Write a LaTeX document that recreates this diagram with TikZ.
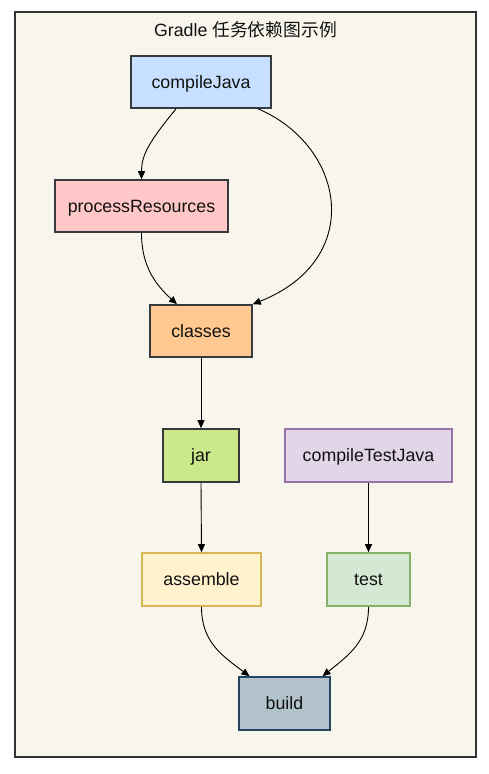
\documentclass[tikz,border=0pt]{standalone}
\usepackage{fontspec}
\setmainfont{Liberation Sans}
\newfontfamily\cjk{Noto Sans CJK SC}
\usetikzlibrary{arrows.meta}
\definecolor{bgc}{HTML}{F8F6EC}
\definecolor{framec}{HTML}{333333}
\definecolor{darkst}{HTML}{36393D}
\definecolor{cjf}{HTML}{C7E0FF}
\definecolor{prf}{HTML}{FFC7C7}
\definecolor{clf}{HTML}{FFC891}
\definecolor{jarf}{HTML}{CBE88A}
\definecolor{ctjf}{HTML}{E1D5E7}
\definecolor{ctjs}{HTML}{9673A6}
\definecolor{asf}{HTML}{FFF2CC}
\definecolor{ass}{HTML}{D6B656}
\definecolor{tef}{HTML}{D5E8D4}
\definecolor{tes}{HTML}{82B366}
\definecolor{buf}{HTML}{B1C2CC}
\definecolor{bus}{HTML}{23445D}
\definecolor{txt}{HTML}{111111}
\begin{document}
\begin{tikzpicture}[x=1pt,y=-1pt,
  taskbox/.style={draw=darkst, line width=1.6pt, rectangle, inner sep=0pt,
    text depth=0pt, font=\fontsize{17.8}{20}\selectfont, text=txt},
  dep/.style={line width=0.9pt, draw=black, -{Triangle[length=8pt,width=7pt]}},
  titletext/.style={font=\fontsize{17.8}{20}\selectfont, text=txt, inner sep=0pt}]
\useasboundingbox (0,0) rectangle (489,774);
\fill[white] (0,0) rectangle (489,774);
\draw[fill=bgc, draw=framec, line width=1.8pt] (15,12) rectangle (476,757);
\node[titletext] (title) at (245.5,30) {Gradle {\cjk 任务依赖图示例}};

\node[taskbox, fill=cjf, minimum width=140pt, minimum height=52pt] (cj) at (201,82) {compileJava};
\node[taskbox, fill=prf, minimum width=173pt, minimum height=52pt] (pr) at (141.5,206) {processResources};
\node[taskbox, fill=clf, minimum width=102pt, minimum height=52pt] (cl) at (201,331) {classes};
\node[taskbox, fill=jarf, minimum width=76pt, minimum height=53pt] (jar) at (201,455.5) {jar};
\node[taskbox, fill=ctjf, draw=ctjs, minimum width=167pt, minimum height=53pt] (ctj) at (368.5,455.5) {compileTestJava};
\node[taskbox, fill=asf, draw=ass, minimum width=119pt, minimum height=53pt] (as) at (201.5,579.5) {assemble};
\node[taskbox, fill=tef, draw=tes, minimum width=83pt, minimum height=53pt] (te) at (368.5,579.5) {test};
\node[taskbox, fill=buf, draw=bus, minimum width=91pt, minimum height=53pt] (bu) at (284.5,703.5) {build};

\draw[dep] ([xshift=-25pt]cj.south) .. controls +(-26,32) and +(0,-25) .. (pr.north);
\draw[dep] ([xshift=57pt]cj.south) .. controls +(87,37) and +(113,-45) .. (cl.north east);
\draw[dep] (pr.south) .. controls +(0,33) and +(-22,-20) .. ([xshift=-24pt]cl.north);
\draw[dep] (cl.south) -- (jar.north);
\draw[dep] (jar.south) -- (as.north);
\draw[dep] (ctj.south) -- (te.north);
\draw[dep] (as.south) .. controls +(0,34) and +(-29.5,-22) .. ([xshift=-35pt]bu.north);
\draw[dep] (te.south) .. controls +(0,34) and +(27.5,-22) .. ([xshift=38pt]bu.north);
\end{tikzpicture}
\end{document}
